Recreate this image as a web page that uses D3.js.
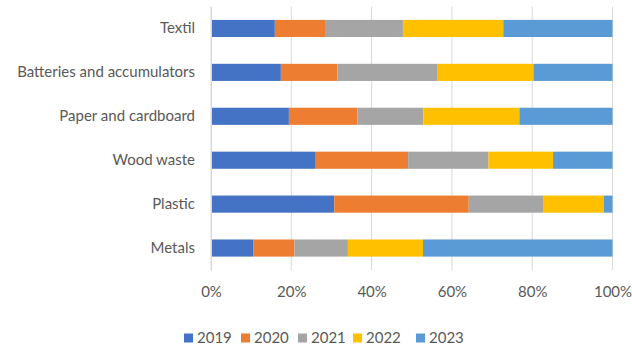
<!DOCTYPE html>
<html>
<head>
<meta charset="utf-8">
<script src="https://cdn.jsdelivr.net/npm/d3@7"></script>
<style>
  html, body { margin: 0; padding: 0; background: #fff; }
  svg { display: block; }
  text { font-family: Lato, "Liberation Sans", sans-serif; fill: #595959; }
</style>
</head>
<body>
<svg id="chart" width="632" height="345"></svg>
<script>
// Waste categories, top to bottom
const categories = ["Textil", "Batteries and accumulators", "Paper and cardboard", "Wood waste", "Plastic", "Metals"];
const years = ["2019", "2020", "2021", "2022", "2023"];
const colors = ["#4472C4", "#ED7D31", "#A5A5A5", "#FFC000", "#5B9BD5"];

// Share of each year per category (%)
const v2019 = [15.9, 17.4, 19.4, 25.9, 30.7, 10.5];
const v2020 = [12.5, 14.1, 17.1, 23.2, 33.5, 10.3];
const v2021 = [19.4, 24.8, 16.4, 20.0, 18.5, 13.3];
const v2022 = [25.0, 24.0, 23.9, 16.1, 15.1, 18.7];
const v2023 = [27.2, 19.7, 23.2, 14.8, 2.2, 47.2];

const xTicks = [0, 0.2, 0.4, 0.6, 0.8, 1.0];

const seriesValues = [v2019, v2020, v2021, v2022, v2023];
const rows = categories.map((c, i) => {
  const r = { category: c };
  years.forEach((y, k) => { r[y] = seriesValues[k][i]; });
  return r;
});

const svg = d3.select("#chart");
const margin = { left: 211, top: 6.5 };

const x = d3.scaleLinear().domain([0, 1]).range([margin.left, 612.5]);
const y = d3.scaleBand().domain(categories).range([margin.top, 270]).paddingInner(0.61).paddingOuter(0.305);

const stack = d3.stack().keys(years).offset(d3.stackOffsetExpand);
const layers = stack(rows);

// Gridlines
svg.append("g")
  .selectAll("line")
  .data(xTicks)
  .join("line")
  .attr("x1", d => x(d)).attr("x2", d => x(d))
  .attr("y1", margin.top).attr("y2", 270)
  .attr("stroke", "#D9D9D9").attr("stroke-width", 1);

// Stacked bars
svg.append("g")
  .selectAll("g")
  .data(layers)
  .join("g")
  .attr("fill", (d, i) => colors[i])
  .selectAll("rect")
  .data(d => d)
  .join("rect")
  .attr("x", d => x(d[0]))
  .attr("width", d => x(d[1]) - x(d[0]))
  .attr("y", d => y(d.data.category))
  .attr("height", y.bandwidth());

// Category axis
const yAxis = d3.axisLeft(y).tickSize(0).tickPadding(16);
const gy = svg.append("g").attr("transform", `translate(${margin.left},0)`).call(yAxis);
gy.select(".domain").attr("stroke", "#D9D9D9");
gy.selectAll("text").style("font-size", "15px").attr("fill", "#595959");

// Percentage axis
const xAxis = d3.axisBottom(x).tickValues(xTicks).tickFormat(d3.format(".0%")).tickSize(0).tickPadding(16);
const gx = svg.append("g").attr("transform", "translate(0,270)").call(xAxis);
gx.select(".domain").remove();
gx.selectAll("text").style("font-size", "15px").attr("fill", "#595959");

// Legend
const legendX = [184, 241, 298, 353, 416];
const lg = svg.append("g").selectAll("g").data(years).join("g")
  .attr("transform", (d, i) => `translate(${legendX[i]},338)`);
lg.append("rect").attr("x", 0).attr("y", -4.5).attr("width", 9).attr("height", 9)
  .attr("fill", (d, i) => colors[i]);
lg.append("text").attr("x", 13).attr("y", 0).attr("dy", "0.35em")
  .style("font-size", "15px").text(d => d);
</script>
</body>
</html>
